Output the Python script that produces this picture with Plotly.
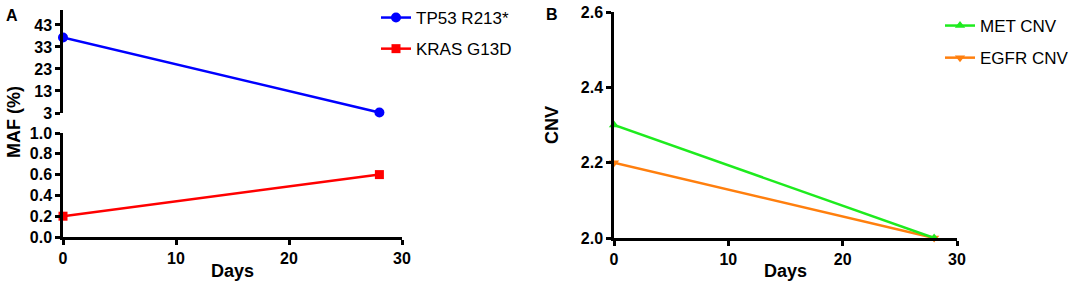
import plotly.graph_objects as go

W, H = 1084, 286

days = [0, 28]
tp53 = [37.3, 3.2]
kras = [0.2, 0.6]
met_cnv = [2.3, 2.0]
egfr_cnv = [2.2, 2.0]

top_ticks = [3, 13, 23, 33, 43]
bot_ticks = [0.0, 0.2, 0.4, 0.6, 0.8, 1.0]
x_ticks = [0, 10, 20, 30]
b_ticks = [2.0, 2.2, 2.4, 2.6]

BLUE = "#0000FF"
RED = "#FF0000"
GREEN = "#1EEB1E"
ORANGE = "#FF7F0E"
FONT = "Liberation Sans, Arial, sans-serif"


def px_x(p):
    return p / W


def px_y(p):
    return 1 - p / H


fig = go.Figure()

fig.add_trace(go.Scatter(x=days, y=tp53, name="TP53 R213*", mode="lines+markers",
                         line=dict(color=BLUE, width=2.5),
                         marker=dict(symbol="circle", size=10, color=BLUE),
                         xaxis="x", yaxis="y", legend="legend", legendgroup="a1",
                         legendrank=1, cliponaxis=False))
fig.add_trace(go.Scatter(x=days, y=kras, name="KRAS G13D", mode="lines+markers",
                         line=dict(color=RED, width=2.5),
                         marker=dict(symbol="square", size=9, color=RED),
                         xaxis="x", yaxis="y2", legend="legend", legendgroup="a2",
                         legendrank=2, cliponaxis=False))
fig.add_trace(go.Scatter(x=days, y=egfr_cnv, name="EGFR CNV", mode="lines+markers",
                         line=dict(color=ORANGE, width=2.5),
                         marker=dict(symbol="triangle-down", size=9, color=ORANGE),
                         xaxis="x2", yaxis="y3", legend="legend2", legendgroup="b2",
                         legendrank=2, cliponaxis=False))
fig.add_trace(go.Scatter(x=days, y=met_cnv, name="MET CNV", mode="lines+markers",
                         line=dict(color=GREEN, width=2.5),
                         marker=dict(symbol="triangle-up", size=9, color=GREEN),
                         xaxis="x2", yaxis="y3", legend="legend2", legendgroup="b1",
                         legendrank=1, cliponaxis=False))

axis_common = dict(showline=True, linecolor="black", linewidth=2.5,
                   ticks="outside", ticklen=5, tickwidth=2.5, tickcolor="black",
                   showgrid=False, zeroline=False, automargin=False,
                   tickfont=dict(family=FONT, size=16, color="black", weight="bold"))

fig.update_layout(
    template="none",
    width=W, height=H,
    margin=dict(l=0, r=0, t=0, b=0, pad=0),
    paper_bgcolor="white", plot_bgcolor="white",
    xaxis=dict(domain=[px_x(63), px_x(402)], range=[0, 30], tickvals=x_ticks,
               anchor="y2", **axis_common),
    yaxis=dict(domain=[px_y(113), px_y(10)], range=[3, 49.8], tickvals=top_ticks,
               anchor="x", **axis_common),
    yaxis2=dict(domain=[px_y(237), px_y(133)], range=[0, 1.0], tickvals=bot_ticks,
                tickformat=".1f", anchor="x", **axis_common),
    xaxis2=dict(domain=[px_x(614), px_x(957)], range=[0, 30], tickvals=x_ticks,
                anchor="y3", **axis_common),
    yaxis3=dict(domain=[px_y(238), px_y(12)], range=[2.0, 2.6], tickvals=b_ticks,
                tickformat=".1f", anchor="x2", **axis_common),
    legend=dict(x=px_x(376), y=1, xanchor="left", yanchor="top",
                bgcolor="rgba(0,0,0,0)", tracegroupgap=6,
                font=dict(family=FONT, size=17, color="black")),
    legend2=dict(x=px_x(940), y=px_y(8), xanchor="left", yanchor="top",
                 bgcolor="rgba(0,0,0,0)", tracegroupgap=7,
                 font=dict(family=FONT, size=17, color="black")),
)

ann_font_b = dict(family=FONT, size=18, color="black", weight="bold")
annotations = [
    dict(text="A", x=px_x(12), y=px_y(15), font=dict(family=FONT, size=16, color="black", weight="bold")),
    dict(text="B", x=px_x(552), y=px_y(14), font=dict(family=FONT, size=16, color="black", weight="bold")),
    dict(text="MAF (%)", x=px_x(14), y=px_y(122), textangle=-90, font=ann_font_b),
    dict(text="CNV", x=px_x(552), y=px_y(125), textangle=-90, font=ann_font_b),
    dict(text="Days", x=px_x(232), y=px_y(271), font=ann_font_b),
    dict(text="Days", x=px_x(785), y=px_y(271), font=ann_font_b),
]
for a in annotations:
    a.update(xref="paper", yref="paper", showarrow=False, xanchor="center", yanchor="middle")
fig.update_layout(annotations=annotations)

# remove the browser's default page margin so the figure fills the window exactly
fig.write_html("out.html",
               config={"displayModeBar": False},
               post_script="document.body.style.margin='0';document.body.style.overflow='hidden';")
